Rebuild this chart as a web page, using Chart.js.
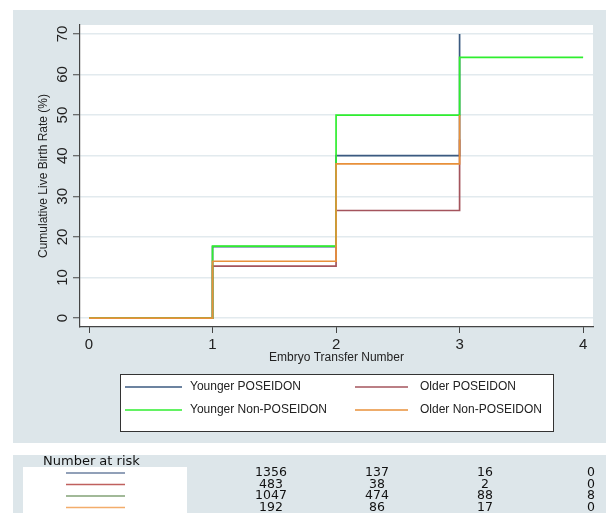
<!DOCTYPE html>
<html>
<head>
<meta charset="utf-8">
<script src="https://cdn.jsdelivr.net/npm/chart.js@4"></script>
<style>
html, body { margin: 0; padding: 0; background: #fff; }
canvas { display: block; }
</style>
</head>
<body>
<canvas id="myChart" width="606" height="513"></canvas>
<script>
// step points, one value per embryo transfer number
const transfers = [0, 1, 2, 3, 4];
const youngerPoseidon = [0, 17.6, 40.0, 70.0];
const olderPoseidon = [0, 12.8, 26.5, 44.0];
const youngerNonPoseidon = [0, 17.7, 50.0, 64.2, 64.2];
const olderNonPoseidon = [0, 14.0, 38.0, 50.0];

const seriesNames = ['Younger POSEIDON', 'Older POSEIDON', 'Younger Non-POSEIDON', 'Older Non-POSEIDON'];
const lineColors = ['#3b5a80', '#a4545c', '#2fee2f', '#e8903a'];
const riskColors = ['#6d80a0', '#c0605e', '#82a276', '#f3ad6b'];

const xTicks = [0, 1, 2, 3, 4];
const yTicks = [0, 10, 20, 30, 40, 50, 60, 70];

// number at risk table
const riskYoungerPoseidon = [1356, 137, 16, 0];
const riskOlderPoseidon = [483, 38, 2, 0];
const riskYoungerNonPoseidon = [1047, 474, 88, 8];
const riskOlderNonPoseidon = [192, 86, 17, 0];

const FONT = "'Liberation Sans', Arial, sans-serif";
const TABLE_FONT = "'DejaVu Sans', Verdana, sans-serif";
const PANEL = '#dde6ea';

const allSeries = [youngerPoseidon, olderPoseidon, youngerNonPoseidon, olderNonPoseidon];
const riskRows = [riskYoungerPoseidon, riskOlderPoseidon, riskYoungerNonPoseidon, riskOlderNonPoseidon];

const datasets = allSeries.map((vals, i) => ({
	label: seriesNames[i],
	data: vals.map((v, j) => ({ x: transfers[j], y: v })),
	borderColor: lineColors[i],
	borderWidth: 1.7,
	pointRadius: 0,
	stepped: true,
	fill: false,
	order: 4 - i // orange drawn on top, like the original
}));

const backdrop = {
	id: 'backdrop',
	beforeDraw(chart) {
		const c = chart.ctx, a = chart.chartArea;
		c.save();
		c.fillStyle = '#fff';
		c.fillRect(0, 0, chart.width, chart.height);
		c.fillStyle = PANEL;
		c.fillRect(13, 10, 593, 433);
		c.fillRect(13, 455, 593, 58);
		c.fillStyle = '#fff';
		c.fillRect(a.left, a.top, a.right - a.left, a.bottom - a.top);
		c.fillRect(23, 467, 164, 46);
		c.restore();
	},
	afterDraw(chart) {
		const c = chart.ctx;
		c.save();
		// legend box
		c.fillStyle = '#fff';
		c.fillRect(120, 374, 433, 57);
		c.strokeStyle = '#333';
		c.lineWidth = 1;
		c.strokeRect(120.5, 374.5, 433, 57);
		c.font = '12px ' + FONT;
		c.textBaseline = 'middle';
		c.textAlign = 'left';
		const cols = [[125, 182, 190], [355, 408, 420]];
		const rows = [387, 410];
		seriesNames.forEach((name, i) => {
			const col = cols[i % 2], y = rows[Math.floor(i / 2)];
			c.strokeStyle = lineColors[i];
			c.lineWidth = 1.5;
			c.beginPath();
			c.moveTo(col[0], y);
			c.lineTo(col[1], y);
			c.stroke();
			c.fillStyle = '#222';
			c.fillText(name, col[2], y);
		});
		// number at risk
		c.fillStyle = '#111';
		c.font = '13px ' + TABLE_FONT;
		c.fillText('Number at risk', 43, 462);
		const rowY = [473, 484.5, 496, 507.5];
		const colX = [271, 377, 485, 591];
		c.font = '12.5px ' + TABLE_FONT;
		c.textAlign = 'center';
		riskRows.forEach((row, i) => {
			c.strokeStyle = riskColors[i];
			c.lineWidth = 1.6;
			c.beginPath();
			c.moveTo(66, rowY[i]);
			c.lineTo(125, rowY[i]);
			c.stroke();
			row.forEach((n, j) => c.fillText(String(n), colX[j], rowY[i]));
		});
		c.restore();
	}
};

const ctx = document.getElementById('myChart').getContext('2d');

let kmChart = new Chart(ctx, {
	type: 'line',
	data: { datasets: datasets },
	options: {
		responsive: false,
		animation: false,
		devicePixelRatio: 1,
		layout: { padding: { left: 13, right: 13, top: 25, bottom: 146 } },
		plugins: {
			legend: { display: false },
			tooltip: { enabled: false }
		},
		scales: {
			x: {
				type: 'linear',
				min: -0.073,
				max: 4.08,
				afterBuildTicks: s => { s.ticks = xTicks.map(v => ({ value: v })); },
				afterFit: s => { s.height = 40; },
				grid: { drawOnChartArea: false, tickLength: 6, tickColor: '#444', tickWidth: 1 },
				border: { color: '#444', width: 1.2 },
				ticks: { font: { family: FONT, size: 15 }, color: '#222', padding: 3, maxRotation: 0 },
				title: {
					display: true,
					text: 'Embryo Transfer Number',
					font: { family: FONT, size: 12 },
					color: '#222',
					padding: { top: 0, bottom: 2 }
				}
			},
			y: {
				min: -2.2,
				max: 72.2,
				afterBuildTicks: s => { s.ticks = yTicks.map(v => ({ value: v })); },
				afterFit: s => { s.width = 67; },
				grid: { color: '#e2eaee', lineWidth: 1.5, tickColor: '#444', tickLength: 7, tickWidth: 1 },
				border: { color: '#444', width: 1.2 },
				ticks: { font: { family: FONT, size: 15 }, color: '#222', padding: 2, minRotation: 90, maxRotation: 90, crossAlign: 'center' },
				title: {
					display: true,
					text: 'Cumulative Live Birth Rate (%)',
					font: { family: FONT, size: 12 },
					color: '#222',
					padding: { top: 23, bottom: 0 }
				}
			}
		}
	},
	plugins: [backdrop]
});
</script>
</body>
</html>
